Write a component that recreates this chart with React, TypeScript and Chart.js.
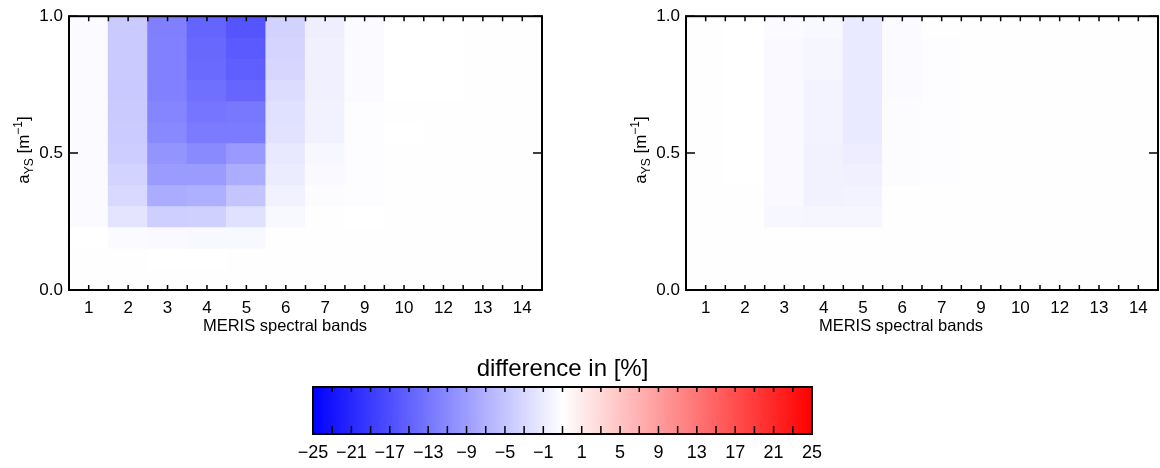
import React, { useEffect, useRef } from 'react';
import { Chart, registerables } from 'chart.js';

Chart.register(...registerables);

// ---------------- data ----------------
const bands = ['1', '2', '3', '4', '5', '6', '7', '9', '10', '12', '13', '14'];
// a_YS bin edges [m^-1], bottom to top
const aysEdges = [0.0, 0.077, 0.154, 0.231, 0.308, 0.385, 0.462, 0.538, 0.615, 0.692, 0.769, 0.846, 0.923, 1.0];
const yTicks = [0.0, 0.5, 1.0];
// colour-bar labels (evenly spaced along the bar, as in the original)
const colorbarLabels = [-25, -21, -17, -13, -9, -5, -1, 1, 5, 9, 13, 17, 21, 25];
const colorbarLevels = 26;
const diffRange: [number, number] = [-25, 25];

// difference in [%]; rows listed from top (a_YS 0.923-1.0) to bottom (0-0.077), columns follow bands
const leftDiff: number[][] = [
  [-0.4, -5.2, -12.5, -15.2, -16.7, -4.4, -1.7, -0.5, 0.0, 0.0, -0.1, -0.1],
  [-0.4, -5.2, -12.4, -14.8, -16.2, -4.2, -1.5, -0.4, 0.0, 0.0, -0.1, -0.1],
  [-0.4, -5.2, -12.4, -14.6, -15.7, -4.0, -1.5, -0.4, 0.0, 0.0, -0.1, -0.1],
  [-0.4, -5.3, -12.4, -14.0, -15.0, -3.4, -1.5, -0.4, 0.0, 0.0, -0.1, -0.1],
  [-0.4, -5.2, -12.0, -13.5, -13.2, -3.0, -1.3, -0.2, -0.1, -0.1, -0.1, -0.1],
  [-0.4, -5.1, -11.7, -12.9, -12.9, -2.8, -1.3, -0.2, 0.0, -0.1, -0.1, -0.1],
  [-0.4, -4.9, -10.5, -11.5, -10.0, -2.3, -0.8, -0.15, -0.1, -0.1, -0.1, -0.1],
  [-0.4, -4.3, -9.8, -9.9, -8.0, -1.9, -0.6, -0.15, -0.1, -0.1, -0.1, -0.1],
  [-0.4, -3.7, -8.2, -7.8, -5.8, -1.3, -0.3, -0.15, -0.1, -0.1, -0.1, -0.1],
  [-0.35, -2.6, -4.8, -4.6, -3.0, -0.7, -0.1, 0.0, -0.1, -0.1, -0.1, -0.1],
  [0.0, -0.5, -0.6, -0.7, -0.7, -0.05, -0.1, -0.1, -0.1, -0.1, -0.1, -0.1],
  [-0.1, -0.05, 0.0, 0.0, -0.05, -0.1, -0.1, -0.1, -0.1, -0.1, -0.1, -0.1],
  [-0.1, -0.05, -0.05, -0.05, -0.05, -0.1, -0.1, -0.1, -0.1, -0.1, -0.1, -0.1],
];

const rightDiff: number[][] = [
  [-0.1, 0.0, -0.4, -0.7, -2.2, -0.5, -0.1, -0.1, -0.1, -0.1, -0.1, -0.1],
  [-0.1, 0.0, -0.6, -0.9, -2.2, -0.5, -0.2, -0.1, -0.1, -0.1, -0.1, -0.1],
  [-0.1, 0.0, -0.6, -0.9, -2.2, -0.5, -0.2, -0.1, -0.1, -0.1, -0.1, -0.1],
  [-0.1, 0.0, -0.6, -1.2, -2.2, -0.5, -0.2, -0.1, -0.1, -0.1, -0.1, -0.1],
  [-0.1, 0.0, -0.6, -1.2, -2.2, -0.3, -0.2, -0.1, -0.1, -0.1, -0.1, -0.1],
  [-0.1, 0.0, -0.6, -1.2, -2.2, -0.3, -0.2, -0.1, -0.1, -0.1, -0.1, -0.1],
  [-0.1, 0.0, -0.6, -1.3, -1.8, -0.3, -0.2, -0.1, -0.1, -0.1, -0.1, -0.1],
  [-0.1, 0.0, -0.6, -1.3, -1.5, -0.3, -0.2, -0.1, -0.1, -0.1, -0.1, -0.1],
  [-0.1, -0.1, -0.6, -1.3, -1.2, -0.1, -0.1, -0.1, -0.1, -0.1, -0.1, -0.1],
  [-0.1, -0.1, -0.8, -0.9, -0.9, -0.1, -0.1, -0.1, -0.1, -0.1, -0.1, -0.1],
  [-0.1, -0.05, -0.05, -0.05, -0.05, -0.1, -0.1, -0.1, -0.1, -0.1, -0.1, -0.1],
  [-0.1, -0.1, -0.1, -0.1, -0.1, -0.1, -0.1, -0.1, -0.1, -0.1, -0.1, -0.1],
  [-0.1, -0.1, -0.1, -0.1, -0.1, -0.1, -0.1, -0.1, -0.1, -0.1, -0.1, -0.1],
];

// ---------------- helpers ----------------
const FONT = '"Liberation Sans", Arial, Helvetica, sans-serif';
Chart.defaults.font.family = FONT;
Chart.defaults.color = '#000';

function colorFor(v: number): string {
  const t = Math.max(-1, Math.min(1, v / diffRange[1]));
  if (t < 0) {
    const c = Math.round(255 * (1 + t));
    return `rgb(${c},${c},255)`;
  }
  const c = Math.round(255 * (1 - t));
  return `rgb(255,${c},${c})`;
}

function fmtSigned(v: number): string {
  return v < 0 ? '\u2212' + Math.abs(v) : String(v);
}

function barPos(frac: number): number {
  return diffRange[0] + frac * (diffRange[1] - diffRange[0]);
}

const heatFramePlugin = {
  id: 'heatFrame',
  afterDraw(chart: any, _args: any, opts: any) {
    const { ctx, chartArea: a, scales } = chart;
    const xs = scales.x;
    const ys = scales.y;
    ctx.save();
    ctx.strokeStyle = '#000';
    ctx.lineWidth = 1.5;
    ctx.beginPath();
    const n = bands.length;
    const xpos: number[] = [];
    for (let i = 0; i < n; i++) {
      xpos.push(xs.getPixelForValue(i));
      if (i < n - 1) xpos.push((xs.getPixelForValue(i) + xs.getPixelForValue(i + 1)) / 2);
    }
    for (const x of xpos) {
      ctx.moveTo(x, a.bottom);
      ctx.lineTo(x, a.bottom - 5);
      ctx.moveTo(x, a.top);
      ctx.lineTo(x, a.top + 5);
    }
    for (const v of yTicks) {
      const y = ys.getPixelForValue(v);
      ctx.moveTo(a.left, y);
      ctx.lineTo(a.left + 9, y);
      ctx.moveTo(a.right, y);
      ctx.lineTo(a.right - 9, y);
    }
    ctx.stroke();
    ctx.lineWidth = 2;
    ctx.strokeRect(a.left, a.top, a.right - a.left, a.bottom - a.top);

    // x title
    ctx.fillStyle = '#000';
    ctx.font = `16.5px ${FONT}`;
    ctx.textAlign = 'center';
    ctx.textBaseline = 'middle';
    ctx.fillText(opts.xTitle, opts.xTitleX, opts.xTitleY);

    // y title: a_YS [m^-1]
    const segs = [
      { t: 'a', s: 17, dy: 0 },
      { t: 'YS', s: 12, dy: 4 },
      { t: ' [m', s: 17, dy: 0 },
      { t: '\u22121', s: 12, dy: -7 },
      { t: ']', s: 17, dy: 0 },
    ];
    ctx.translate(opts.yTitleX, opts.yTitleY);
    ctx.rotate(-Math.PI / 2);
    ctx.textAlign = 'left';
    ctx.textBaseline = 'alphabetic';
    let total = 0;
    const widths = segs.map((sg) => {
      ctx.font = `${sg.s}px ${FONT}`;
      const w = ctx.measureText(sg.t).width;
      total += w;
      return w;
    });
    let x = -total / 2;
    segs.forEach((sg, i) => {
      ctx.font = `${sg.s}px ${FONT}`;
      ctx.fillText(sg.t, x, sg.dy);
      x += widths[i];
    });
    ctx.restore();
  },
};

function heatmapConfig(rows: number[][], rightPad: number, xTitleX: number) {
  const nRows = rows.length;
  const datasets = rows.map((row, i) => {
    const lo = aysEdges[nRows - 1 - i];
    const hi = aysEdges[nRows - i];
    return {
      label: `${lo}-${hi}`,
      data: row.map(() => [lo, hi]),
      backgroundColor: row.map(colorFor),
      borderWidth: 0,
      borderSkipped: false,
      grouped: false,
      barPercentage: 1,
      categoryPercentage: 1,
      inflateAmount: 0.6,
    };
  });
  return {
    type: 'bar' as const,
    data: { labels: bands, datasets },
    options: {
      responsive: false,
      animation: false as const,
      events: [],
      layout: { padding: { top: 15, right: rightPad, left: 0, bottom: 0 } },
      plugins: {
        legend: { display: false },
        tooltip: { enabled: false },
        heatFrame: { xTitle: 'MERIS spectral bands', xTitleX, xTitleY: 326, yTitleX: 29, yTitleY: 150 },
      },
      scales: {
        x: {
          type: 'category' as const,
          grid: { display: false, drawTicks: false },
          border: { display: false },
          ticks: { color: '#000', font: { size: 17 }, padding: 8, maxRotation: 0, autoSkip: false },
          afterFit: (s: any) => {
            s.height = 50;
          },
        },
        y: {
          type: 'linear' as const,
          min: 0,
          max: 1,
          afterBuildTicks: (s: any) => {
            s.ticks = yTicks.map((v) => ({ value: v }));
          },
          grid: { display: false, drawTicks: false },
          border: { display: false },
          ticks: { color: '#000', font: { size: 17 }, padding: 6, callback: (v: any) => Number(v).toFixed(1) },
          afterFit: (s: any) => {
            s.width = 69;
          },
        },
      },
    },
    plugins: [heatFramePlugin],
  };
}

const colorbarPlugin = {
  id: 'colorbarFrame',
  afterDraw(chart: any) {
    const { ctx, chartArea: a, scales } = chart;
    const xs = scales.x;
    ctx.save();
    ctx.strokeStyle = '#000';
    ctx.lineWidth = 1.5;
    ctx.beginPath();
    for (let j = 0; j <= colorbarLevels; j++) {
      const x = xs.getPixelForValue(barPos(j / colorbarLevels));
      ctx.moveTo(x, a.top);
      ctx.lineTo(x, a.top + 5);
      ctx.moveTo(x, a.bottom);
      ctx.lineTo(x, a.bottom - 8);
    }
    ctx.stroke();
    ctx.lineWidth = 2;
    ctx.strokeRect(a.left, a.top, a.right - a.left, a.bottom - a.top);
    ctx.restore();
  },
};

function colorbarConfig() {
  return {
    type: 'bar' as const,
    data: {
      labels: ['difference'],
      datasets: [
        {
          data: [diffRange],
          backgroundColor: (c: any) => {
            const chart = c.chart;
            const xs = chart.scales?.x;
            if (!chart.chartArea || !xs) return '#fff';
            const x0 = xs.getPixelForValue(diffRange[0]);
            const x1 = xs.getPixelForValue(diffRange[1]);
            const g = chart.ctx.createLinearGradient(x0, 0, x1, 0);
            for (let j = 0; j <= colorbarLevels; j++) {
              g.addColorStop(j / colorbarLevels, colorFor(barPos(j / colorbarLevels)));
            }
            return g;
          },
          borderWidth: 0,
          borderSkipped: false,
          barPercentage: 1,
          categoryPercentage: 1,
        },
      ],
    },
    options: {
      indexAxis: 'y' as const,
      responsive: false,
      animation: false as const,
      events: [],
      layout: { padding: { left: 313, right: 348, top: 0, bottom: 0 } },
      plugins: {
        legend: { display: false },
        tooltip: { enabled: false },
        title: {
          display: true,
          text: 'difference in [%]',
          color: '#000',
          font: { size: 24, weight: 'normal' as const },
          padding: { top: 14.6, bottom: 3.6 },
        },
      },
      scales: {
        x: {
          type: 'linear' as const,
          min: diffRange[0],
          max: diffRange[1],
          afterBuildTicks: (s: any) => {
            s.ticks = colorbarLabels.map((_v, k) => ({ value: barPos(k / (colorbarLabels.length - 1)) }));
          },
          grid: { display: false, drawTicks: false },
          border: { display: false },
          ticks: {
            color: '#000',
            font: { size: 18 },
            padding: 8,
            maxRotation: 0,
            autoSkip: false,
            callback: (_v: any, index: number) => fmtSigned(colorbarLabels[index]),
          },
          afterFit: (s: any) => {
            s.height = 34;
          },
        },
        y: { display: false },
      },
    },
    plugins: [colorbarPlugin],
  };
}

function ChartCanvas({ config, left, top, width, height }: { config: () => any; left: number; top: number; width: number; height: number }) {
  const ref = useRef<HTMLCanvasElement | null>(null);
  useEffect(() => {
    if (!ref.current) return;
    const chart = new Chart(ref.current, config());
    return () => chart.destroy();
  }, []);
  return (
    <canvas
      ref={ref}
      width={width}
      height={height}
      style={{ position: 'absolute', left, top, width, height, display: 'block' }}
    />
  );
}

export default function App() {
  return (
    <div
      style={{
        position: 'fixed',
        left: 0,
        top: 0,
        width: 1160,
        height: 468,
        background: '#fff',
        overflow: 'hidden',
      }}
    >
      <ChartCanvas config={() => heatmapConfig(leftDiff, 38, 285)} left={0} top={0} width={580} height={340} />
      <ChartCanvas config={() => heatmapConfig(rightDiff, 2, 284)} left={617} top={0} width={543} height={340} />
      <ChartCanvas config={colorbarConfig} left={0} top={340} width={1160} height={128} />
    </div>
  );
}
